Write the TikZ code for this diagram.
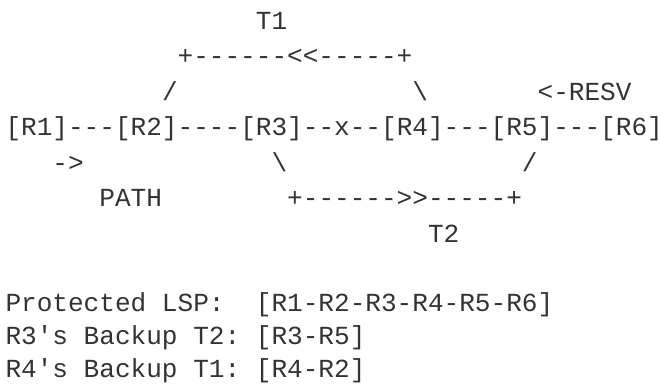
\documentclass[tikz,border=0pt]{standalone}
\usepackage{fontspec}
\setmonofont{Liberation Mono}
\definecolor{ink}{RGB}{51,51,51}
\newcommand{\colx}[1]{5.5+#1*15.65}
\tikzset{
  txt/.style={anchor=base west, inner sep=0pt, outer sep=0pt, text=ink,
    font=\ttfamily\fontsize{26.08}{30}\selectfont}
}
\newcommand{\tok}[4]{\node[txt] (#1) at ({\colx{#2}}, {-#3}) {#4};}
\begin{document}
\begin{tikzpicture}[x=1pt,y=1pt]
\useasboundingbox (0,0) rectangle (660,-389);
% row 0
\tok{t1}{16}{29.3}{T1}
% row 1
\tok{topline}{11}{64.7}{+------<<-----+}
% row 2
\tok{sla}{10}{100.1}{/}
\tok{bsa}{26}{100.1}{\textbackslash}
\tok{resv}{34}{100.1}{<-RESV}
% row 3
\tok{r1}{0}{135.5}{[R1]}
\tok{l12}{4}{135.5}{---}
\tok{r2}{7}{135.5}{[R2]}
\tok{l23}{11}{135.5}{----}
\tok{r3}{15}{135.5}{[R3]}
\tok{l3x}{19}{135.5}{--}
\tok{cut}{21}{135.5}{x}
\tok{lx4}{22}{135.5}{--}
\tok{r4}{24}{135.5}{[R4]}
\tok{l45}{28}{135.5}{---}
\tok{r5}{31}{135.5}{[R5]}
\tok{l56}{35}{135.5}{---}
\tok{r6}{38}{135.5}{[R6]}
% row 4
\tok{arr}{3}{171}{->}
\tok{bsb}{17}{171}{\textbackslash}
\tok{slb}{33}{171}{/}
% row 5
\tok{path}{6}{206.5}{PATH}
\tok{botline}{18}{206.5}{+------>>-----+}
% row 6
\tok{t2}{27}{242}{T2}
% legend
\tok{pa}{0}{311}{Protected LSP:}
\tok{pb}{16}{311}{[R1-R2-R3-R4-R5-R6]}
\tok{ba}{0}{344.3}{R3's Backup T2:}
\tok{bb}{16}{344.3}{[R3-R5]}
\tok{ca}{0}{377.7}{R4's Backup T1:}
\tok{cb}{16}{377.7}{[R4-R2]}
\end{tikzpicture}
\end{document}
